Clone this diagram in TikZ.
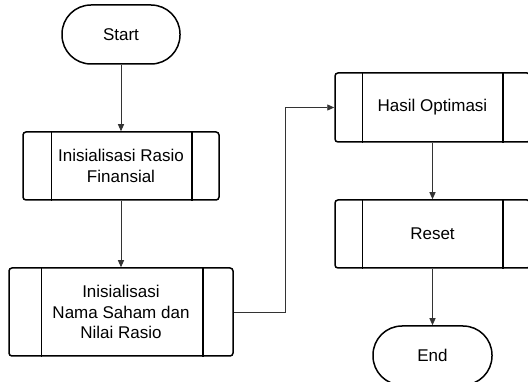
\documentclass[tikz,border=0pt]{standalone}
\usepackage{fontspec}
\setmainfont{Liberation Sans}
\usetikzlibrary{arrows.meta}
\begin{document}
\begin{tikzpicture}[x=1pt,y=1pt,
  every node/.style={font=\fontsize{17}{20.5}\selectfont, align=center, inner sep=0pt},
  term/.style={draw, line width=1.5pt, minimum width=118pt, minimum height=59pt, rounded corners=29pt},
  proc/.style={draw, line width=1.5pt, rounded corners=3pt},
  conn/.style={draw=black!80, line width=0.9pt, -{Triangle[length=7pt,width=6pt]}},
  inner/.style={line width=1.5pt}
]
\useasboundingbox (0,0) rectangle (528,-382);
\clip (0,0) rectangle (528,-382);
\node[term] (start) at (121,-34.5) {Start};
\node[proc, minimum width=196pt, minimum height=68pt] (b1) at (121,-166) {Inisialisasi Rasio\\Finansial};
\node[proc, minimum width=224pt, minimum height=88pt] (b2) at (121,-312) {Inisialisasi\\Nama Saham dan\\Nilai Rasio};
\node[proc, minimum width=195pt, minimum height=69pt] (b3) at (432.5,-107.5) {Hasil Optimasi};
\node[proc, minimum width=195pt, minimum height=68pt] (b4) at (432.5,-234) {Reset};
\node[term, minimum width=119pt] (end) at (432.5,-355.5) {End};
\draw[inner] ([xshift=29pt]b1.north west) -- ([xshift=29pt]b1.south west);
\draw[inner] ([xshift=-28pt]b1.north east) -- ([xshift=-28pt]b1.south east);
\draw[inner] ([xshift=33pt]b2.north west) -- ([xshift=33pt]b2.south west);
\draw[inner] ([xshift=-31pt]b2.north east) -- ([xshift=-31pt]b2.south east);
\draw[inner] ([xshift=28pt]b3.north west) -- ([xshift=28pt]b3.south west);
\draw[inner] ([xshift=-28pt]b3.north east) -- ([xshift=-28pt]b3.south east);
\draw[inner] ([xshift=28pt]b4.north west) -- ([xshift=28pt]b4.south west);
\draw[inner] ([xshift=-28pt]b4.north east) -- ([xshift=-28pt]b4.south east);
\coordinate (k1) at (285,-312);
\coordinate (k2) at (285,-107.5);
\draw[conn] (start) -- (b1);
\draw[conn] (b1) -- (b2);
\draw[conn] (b2.east) -- (k1) -- (k2) -- (b3.west);
\draw[conn] (b3) -- (b4);
\draw[conn] (b4) -- (end);
\end{tikzpicture}
\end{document}
